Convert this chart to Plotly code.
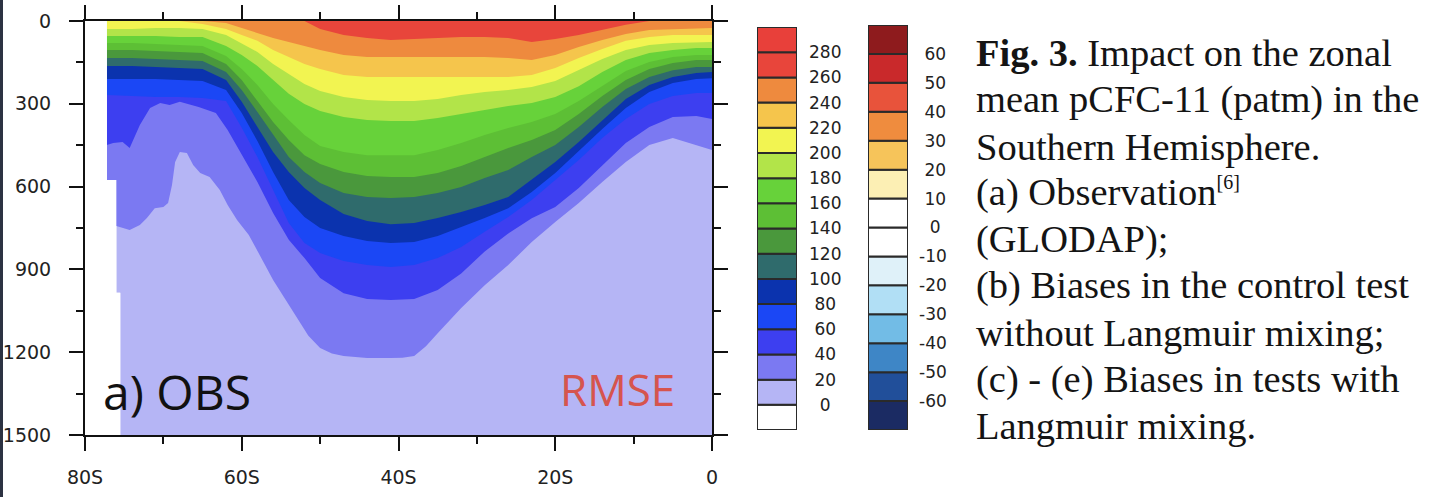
import plotly.graph_objects as go

# ------------------------------------------------------------------
# DATA  (zonal-mean pCFC-11, patm; depth in m of each isoline vs latitude)
# ------------------------------------------------------------------
lat_grid = [-77.2, -74, -71, -68, -65, -62, -60, -58, -56, -54, -52, -50, -47, -44,
            -41, -38, -35, -32, -29, -26, -23, -20, -17, -14, -11, -8, -5, -2, 0]

iso_260 = [0, 0, 0, 0, 0, 0, 0, 0, 0, 0, 0, 29, 51, 62, 69, 65, 62, 58, 58, 62, 76, 65,
           51, 33, 14, 0, 0, 0, 0]
iso_240 = [0, 0, 0, 0, 0, 7, 25, 43, 62, 76, 91, 105, 123, 130, 130, 130, 130, 130, 130,
           134, 141, 123, 94, 69, 47, 33, 29, 25, 25]
iso_220 = [0, 0, 0, 0, 11, 29, 51, 72, 105, 130, 156, 174, 196, 203, 203, 203, 203, 203,
           203, 203, 196, 170, 134, 101, 72, 58, 51, 51, 51]
iso_200 = [29, 29, 25, 25, 29, 51, 83, 112, 156, 192, 228, 254, 275, 286, 290, 290, 283,
           268, 257, 250, 239, 217, 178, 138, 105, 87, 80, 76, 76]
iso_180 = [54, 54, 54, 58, 58, 91, 123, 163, 214, 264, 301, 326, 348, 359, 362, 362, 351,
           337, 322, 308, 297, 275, 236, 185, 141, 116, 105, 98, 98]
iso_160 = [80, 80, 83, 87, 91, 127, 174, 232, 301, 359, 413, 453, 475, 486, 486, 486, 467,
           442, 413, 388, 366, 337, 290, 236, 181, 149, 130, 123, 123]
iso_140 = [105, 105, 109, 112, 116, 156, 214, 290, 366, 431, 486, 518, 547, 562, 565, 565,
           551, 525, 493, 460, 431, 395, 337, 272, 214, 174, 152, 141, 141]
iso_120 = [134, 134, 138, 141, 145, 185, 250, 330, 413, 493, 547, 587, 623, 638, 641, 638,
           623, 601, 569, 540, 493, 449, 384, 312, 246, 203, 178, 167, 167]
iso_100 = [163, 163, 167, 170, 174, 214, 293, 384, 475, 547, 605, 649, 699, 725, 736, 732,
           714, 692, 667, 638, 576, 511, 438, 359, 283, 232, 203, 188, 185]
iso_80 = [210, 210, 210, 214, 217, 250, 333, 435, 547, 649, 710, 750, 779, 797, 804, 801,
          779, 746, 714, 678, 620, 551, 471, 391, 315, 257, 225, 210, 207]
iso_60 = [268, 272, 275, 275, 279, 290, 387, 493, 613, 732, 804, 841, 870, 884, 891, 884,
          859, 819, 764, 710, 649, 576, 504, 424, 355, 301, 272, 261, 261]

lat_40 = [-77.2, -76.4, -75.2, -74.3, -73.0, -71.7, -70.4, -69.2, -67.9, -65.5, -63.3,
          -61.8, -60.1, -58, -56, -54, -52, -50, -47, -44, -41, -38, -35, -32, -29, -26,
          -23, -20, -17, -14, -11, -8, -5, -2, 0]
iso_40 = [449, 442, 438, 460, 377, 315, 297, 304, 293, 312, 333, 395, 478, 583, 696, 793,
          859, 931, 986, 1007, 1011, 1007, 975, 915, 835, 770, 715, 674, 605, 522, 442,
          384, 348, 344, 355]

lat_20 = [-77.2, -76.0, -75.2, -74.3, -73.0, -72.1, -71.1, -70.0, -69.4, -68.9, -68.5,
          -67.9, -67.0, -66.2, -65.3, -64.1, -62.8, -61.8, -60.6, -59.1, -56, -53, -51.5,
          -50, -48.5, -47, -44, -41, -39.5, -38, -36.5, -35, -32, -29, -26, -23, -20, -17,
          -14, -11, -8, -5, -2, 0]
iso_20 = [743, 743, 750, 757, 739, 714, 678, 674, 659, 594, 511, 475, 478, 522, 551, 565,
          612, 667, 721, 775, 938, 1076, 1140, 1185, 1205, 1214, 1221, 1221, 1220, 1214,
          1178, 1131, 1040, 957, 884, 801, 728, 659, 583, 511, 449, 424, 449, 467]

# western edge of the observed data (no data west of it)
edge_lat = [-77.2, -77.2, -76.0, -76.0, -75.5, -75.5]
edge_depth = [0, 576, 576, 985, 985, 1500]

# colour classes of panel (a): <0, 0-20, 20-40, ..., 260-280, >280
obs_levels = [0, 20, 40, 60, 80, 100, 120, 140, 160, 180, 200, 220, 240, 260, 280]
obs_colors = ["#ffffff", "#b5b5f5", "#7b79f2", "#3d3ff0", "#1b47f5", "#0b33ae", "#2f6b6c",
              "#4a983c", "#5dbf35", "#67d23a", "#b2e449", "#f2f451", "#f5c54c", "#ee8a3e",
              "#e8453b", "#e8403a"]

# colour classes of the bias panels: <-60, -60..-50, ..., 50..60, >60
bias_levels = [-60, -50, -40, -30, -20, -10, 0, 10, 20, 30, 40, 50, 60]
bias_colors = ["#1b2b63", "#214f9a", "#3e86c6", "#72bce6", "#b1dff5", "#dff1f9", "#ffffff",
               "#ffffff", "#fcefb4", "#f6c45a", "#ef8c3e", "#e8533b", "#c9292b", "#8e1b1d"]

lat_ticks = [-80, -60, -40, -20, 0]
lat_labels = ["80S", "60S", "40S", "20S", "0"]
depth_ticks = [0, 300, 600, 900, 1200, 1500]

caption_lines = [
    "<b>Fig. 3.</b> Impact on the zonal",
    "mean pCFC-11 (patm) in the",
    "Southern Hemisphere.",
    "(a) Observation<sup><span style='font-size:20px'>[6]</span></sup>",
    "(GLODAP);",
    "(b) Biases in the control test",
    "without Langmuir mixing;",
    "(c) - (e) Biases in tests with",
    "Langmuir mixing.",
]

# ------------------------------------------------------------------
# LAYOUT HELPERS (pixel placement on a 1430 x 497 canvas)
# ------------------------------------------------------------------
W, H = 1430, 497


def dom_x(a, b):
    return [a / W, b / W]


def dom_y(top, bottom):
    return [1 - bottom / H, 1 - top / H]


def py(y):
    return 1 - y / H


fig = go.Figure()

# base class (0-20) over the observed domain
fig.add_trace(go.Scatter(
    x=edge_lat + [0, 0], y=edge_depth + [1500, 0], mode="lines", fill="toself",
    fillcolor=obs_colors[1], line=dict(width=0), hoverinfo="skip", showlegend=False))

isolines = [
    (20, lat_20, iso_20), (40, lat_40, iso_40), (60, lat_grid, iso_60),
    (80, lat_grid, iso_80), (100, lat_grid, iso_100), (120, lat_grid, iso_120),
    (140, lat_grid, iso_140), (160, lat_grid, iso_160), (180, lat_grid, iso_180),
    (200, lat_grid, iso_200), (220, lat_grid, iso_220), (240, lat_grid, iso_240),
    (260, lat_grid, iso_260),
]
for lev, lats, deps in isolines:
    col = obs_colors[obs_levels.index(lev) + 1]
    fig.add_trace(go.Scatter(
        x=[lats[0]] + lats + [lats[-1]], y=[0] + deps + [0], mode="lines",
        fill="toself", fillcolor=col, line=dict(width=0), hoverinfo="skip",
        showlegend=False))

# no-data mask west of the data edge
fig.add_trace(go.Scatter(
    x=edge_lat + [-80, -80], y=edge_depth + [1500, 0], mode="lines", fill="toself",
    fillcolor="#ffffff", line=dict(width=0), hoverinfo="skip", showlegend=False))

# colour bar of panel (a)
fig.add_trace(go.Bar(
    x=[0] * len(obs_colors), y=[1] * len(obs_colors), base=list(range(len(obs_colors))),
    width=1, marker=dict(color=obs_colors, line=dict(color="#2a2a2a", width=2)),
    xaxis="x2", yaxis="y2", cliponaxis=False, hoverinfo="skip", showlegend=False))

# colour bar of the bias panels
fig.add_trace(go.Bar(
    x=[0] * len(bias_colors), y=[1] * len(bias_colors), base=list(range(len(bias_colors))),
    width=1, marker=dict(color=bias_colors, line=dict(color="#2a2a2a", width=2)),
    xaxis="x3", yaxis="y3", cliponaxis=False, hoverinfo="skip", showlegend=False))

NB = "\u00a0"


def cb_label(v):
    s = str(v)
    if v < 0:
        return s
    digits = len(s)
    return NB * (3 - digits) + s if digits < 3 else s


def bias_label(v):
    s = str(v)
    if v < 0:
        return s
    return NB + s if v > 0 else NB * 2 + s


tick_font = dict(family="DejaVu Sans", size=19, color="#222222")
cb_font = dict(family="DejaVu Sans", size=17, color="#222222")

axis_common = dict(
    ticks="outside", ticklen=14, tickwidth=2, tickcolor="#111111",
    showline=True, linewidth=2, linecolor="#111111", mirror="allticks",
    showgrid=False, zeroline=False, tickfont=tick_font, automargin=False,
)

fig.update_layout(
    width=W, height=H,
    margin=dict(l=0, r=0, t=0, b=0, autoexpand=False),
    paper_bgcolor="white", plot_bgcolor="white",
    showlegend=False,
    barmode="overlay",
    xaxis=dict(
        domain=dom_x(85, 712), range=[-80, 0], tickmode="array",
        tickvals=lat_ticks, ticktext=lat_labels, ticklabelstandoff=10,
        minor=dict(dtick=10, tick0=0, ticks="outside", ticklen=7, tickwidth=2,
                   tickcolor="#111111", showgrid=False),
        **axis_common),
    yaxis=dict(
        domain=dom_y(21, 435), range=[1500, 0], tickmode="array",
        tickvals=depth_ticks, ticklabelstandoff=14,
        minor=dict(dtick=150, tick0=0, ticks="outside", ticklen=7, tickwidth=2,
                   tickcolor="#111111", showgrid=False),
        **axis_common),
    xaxis2=dict(domain=dom_x(757, 797), range=[-0.5, 0.5], visible=False, anchor="y2",
                automargin=False),
    yaxis2=dict(domain=dom_y(27, 430), range=[0, len(obs_colors)], anchor="x2",
                side="right", tickmode="array",
                tickvals=list(range(1, len(obs_levels) + 1)),
                ticktext=[cb_label(v) for v in obs_levels],
                ticks="", showgrid=False, zeroline=False, showline=False,
                tickfont=cb_font, ticklabelstandoff=11, automargin=False),
    xaxis3=dict(domain=dom_x(868, 908), range=[-0.5, 0.5], visible=False, anchor="y3",
                automargin=False),
    yaxis3=dict(domain=dom_y(25, 430), range=[0, len(bias_colors)], anchor="x3",
                side="right", tickmode="array",
                tickvals=list(range(1, len(bias_levels) + 1)),
                ticktext=[bias_label(v) for v in bias_levels],
                ticks="", showgrid=False, zeroline=False, showline=False,
                tickfont=cb_font, ticklabelstandoff=10, automargin=False),
)

annotations = [
    dict(text="a) OBS", x=101 / W, y=py(391), xref="paper", yref="paper",
         xanchor="left", yanchor="middle", showarrow=False,
         font=dict(family="Open Sans", size=48, color="#111111")),
    dict(text="RMSE", x=677 / W, y=py(389), xref="paper", yref="paper",
         xanchor="right", yanchor="middle", showarrow=False,
         font=dict(family="Open Sans", size=44, color="#d6544e")),
]
baseline0, line_step = 67.0, 46.6
for i, line in enumerate(caption_lines):
    base = baseline0 + i * line_step
    annotations.append(dict(
        text=line, x=975 / W, y=py(base + 8.3), xref="paper", yref="paper",
        xanchor="left", yanchor="bottom", showarrow=False, borderpad=0,
        font=dict(family="Liberation Serif", size=38.5, color="#141414")))
fig.update_layout(annotations=annotations)

fig.update_layout(shapes=[dict(type="rect", xref="paper", yref="paper",
                               x0=0, x1=3 / W, y0=0, y1=1,
                               fillcolor="#2c3242", line=dict(width=0), layer="above")])

page_fix = ("document.body.style.margin='0';document.body.style.padding='0';"
            "document.body.style.overflow='hidden';")

fig.write_html("out.html", config={"displayModeBar": False}, post_script=page_fix)
